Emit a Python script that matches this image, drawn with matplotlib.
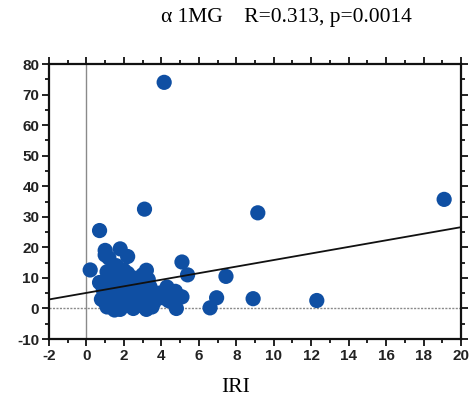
import numpy as np
import matplotlib
matplotlib.use('Agg')
import matplotlib.pyplot as plt
from matplotlib.ticker import MultipleLocator

plt.rcParams['axes.unicode_minus'] = False

# IRI (x) and alpha1MG (y)
iri = [4.15, 3.1, 19.1, 9.15, 0.7, 0.2,
       1.0, 1.8, 2.2, 1.2, 1.0, 1.6, 2.0, 1.7, 3.2, 3.1, 2.5, 1.5,
       5.1, 5.4, 7.45, 6.95, 6.6, 8.9, 12.3, 5.1, 4.8, 4.3, 4.75, 4.1, 3.6, 4.4, 3.9,
       0.7,
       0.9, 1.0, 1.0, 1.1, 1.3, 1.3, 1.4, 1.4, 1.5, 1.6, 1.7, 1.7, 1.8, 1.8, 1.9,
       2.0, 2.0, 2.1, 2.1, 2.3, 2.4, 2.4, 2.5, 2.5, 2.7, 2.8, 2.8, 2.9, 3.0, 3.1,
       3.2, 3.2, 3.2, 3.4, 3.5, 3.5, 0.8, 1.2, 2.6, 3.0, 1.1, 2.2, 3.7, 3.3]
a1mg = [74.0, 32.5, 35.7, 31.3, 25.5, 12.6,
        19.0, 19.5, 17.0, 16.5, 17.5, 14.0, 12.5, 12.8, 12.5, 10.5, 10.0, 10.5,
        15.2, 11.0, 10.5, 3.5, 0.2, 3.2, 2.6, 3.8, 0.0, 7.0, 5.6, 3.5, 2.0, 2.5, 5.0,
        8.5,
        6.0, 4.0, 2.0, 0.5, 7.0, 5.0, 3.0, 1.0, -0.5, 8.0, 6.0, 4.0, 2.0, -0.3, 9.0,
        7.0, 5.0, 3.0, 1.0, 8.0, 6.0, 4.0, 2.0, 0.0, 7.0, 5.0, 3.0, 1.0, 8.5, 6.0,
        4.0, 2.0, -0.3, 7.0, 5.0, 0.5, 3.0, 9.0, 9.5, 11.0, 12.0, 11.5, 3.0, 9.5]

fit_intercept = 5.1
fit_slope = 1.075

x_ticks = list(range(-2, 21, 2))
y_ticks = list(range(-10, 81, 10))

fig = plt.figure(figsize=(4.72, 4.17), dpi=100)
ax = fig.add_axes([0.1038, 0.187, 0.8729, 0.6595])

ax.axvline(0, color='#8a8a8a', lw=1.0, zorder=1)
ax.axhline(0, color='#8a8a8a', lw=1.0, ls=(0, (1.5, 1)), zorder=1)

ax.scatter(iri, a1mg, s=120, color='#0f4fa3', edgecolors='none', zorder=3)

xs = np.array([-2, 20])
ax.plot(xs, fit_intercept + fit_slope * xs, color='#111111', lw=1.3, zorder=4)

ax.set_xlim(-2, 20)
ax.set_ylim(-10, 80)
ax.set_xticks(x_ticks)
ax.set_yticks(y_ticks)
ax.xaxis.set_minor_locator(MultipleLocator(1))
ax.yaxis.set_minor_locator(MultipleLocator(5))
ax.tick_params(which='both', direction='out', top=True, right=True,
               labeltop=False, labelright=False, width=1.3, color='#111111')
ax.tick_params(which='major', length=5, labelsize=11, pad=2)
ax.tick_params(which='minor', length=3)
for lab in ax.get_xticklabels() + ax.get_yticklabels():
    lab.set_family('Liberation Sans')
    lab.set_color('#222222')
    lab.set_weight('semibold')
for sp in ax.spines.values():
    sp.set_linewidth(1.6)
    sp.set_color('#111111')

fig.text(0.606, 0.957, '\u03b1 1MG    R=0.313, p=0.0014', ha='center', va='center',
         family='Liberation Serif', fontsize=15.5)
fig.text(0.5, 0.07, 'IRI', ha='center', va='center',
         family='Liberation Serif', fontsize=15.5)

fig.savefig('out.png', dpi=100)
